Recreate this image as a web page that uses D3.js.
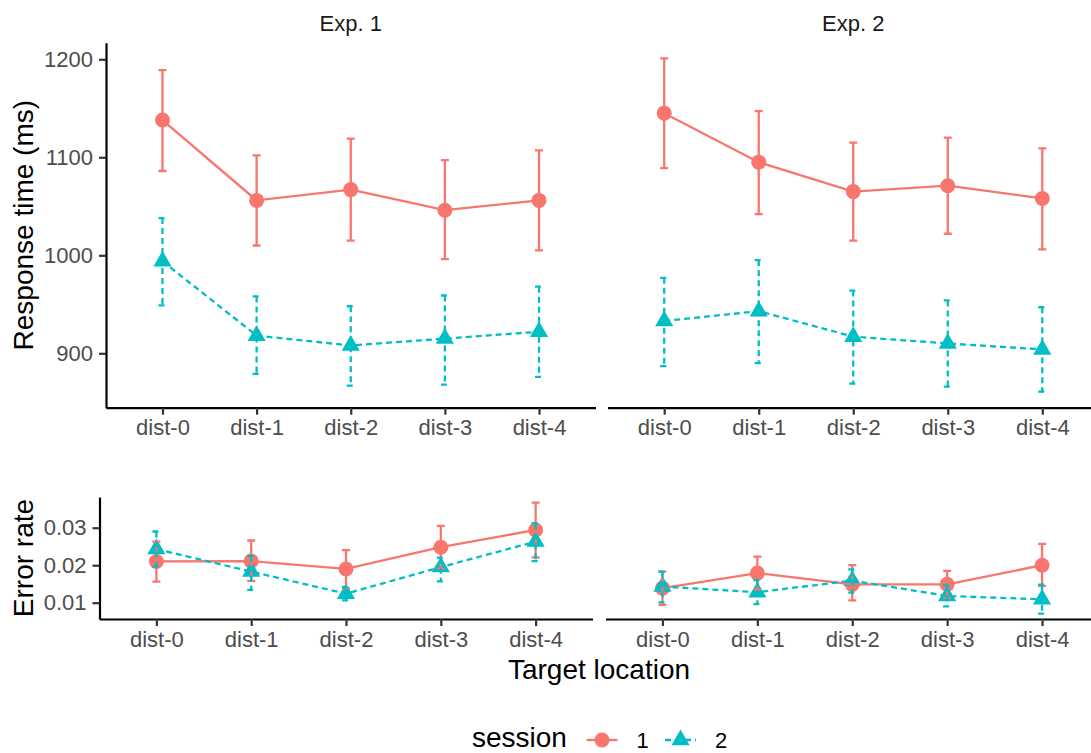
<!DOCTYPE html>
<html><head><meta charset="utf-8">
<script src="https://cdn.jsdelivr.net/npm/d3@7"></script>
<style>body{margin:0;background:#fff} text{font-family:"Liberation Sans",Arial,Helvetica,sans-serif}</style>
</head><body><svg id="c" width="1091" height="753"></svg>
<script>
// ---------------- data ----------------
const categories = ["dist-0","dist-1","dist-2","dist-3","dist-4"];
const experiments = ["Exp. 1","Exp. 2"];
const sessions = ["1","2"];
const rtTicks = [900,1000,1100,1200];
const erTicks = [0.01,0.02,0.03];

// Response time (ms): mean, lower, upper
const rtExp1S1   = [1138, 1056, 1067, 1046, 1056];
const rtExp1S1Lo = [1086, 1010, 1015,  996, 1005];
const rtExp1S1Hi = [1189, 1102, 1119, 1097, 1107];
const rtExp1S2   = [ 994,  918,  908,  915,  922];
const rtExp1S2Lo = [ 949,  879,  867,  868,  876];
const rtExp1S2Hi = [1038,  958,  948,  959,  968];
const rtExp2S1   = [1145, 1095, 1065, 1071, 1058];
const rtExp2S1Lo = [1089, 1042, 1015, 1022, 1006];
const rtExp2S1Hi = [1201, 1147, 1115, 1120, 1109];
const rtExp2S2   = [ 933,  943,  917,  910,  904];
const rtExp2S2Lo = [ 887,  890,  869,  866,  861];
const rtExp2S2Hi = [ 977,  995,  964,  954,  947];

// Error rate: mean, lower, upper
const erExp1S1   = [0.0210, 0.0211, 0.0190, 0.0248, 0.0294];
const erExp1S1Lo = [0.0156, 0.0158, 0.0139, 0.0191, 0.0221];
const erExp1S1Hi = [0.0263, 0.0266, 0.0240, 0.0305, 0.0367];
const erExp1S2   = [0.0243, 0.0183, 0.0124, 0.0195, 0.0263];
const erExp1S2Lo = [0.0196, 0.0134, 0.0106, 0.0157, 0.0211];
const erExp1S2Hi = [0.0290, 0.0225, 0.0142, 0.0220, 0.0312];
const erExp2S1   = [0.0139, 0.0179, 0.0149, 0.0149, 0.0200];
const erExp2S1Lo = [0.0094, 0.0135, 0.0106, 0.0113, 0.0145];
const erExp2S1Hi = [0.0183, 0.0223, 0.0200, 0.0185, 0.0257];
const erExp2S2   = [0.0143, 0.0128, 0.0159, 0.0118, 0.0109];
const erExp2S2Lo = [0.0101, 0.0096, 0.0127, 0.0090, 0.0071];
const erExp2S2Hi = [0.0183, 0.0160, 0.0189, 0.0146, 0.0148];

const colors = ["#F8766D", "#00BFC4"];
const dashes = [null, "6,4"];

// ---------------- drawing ----------------
const svg = d3.select("#c");
svg.append("rect").attr("width",1091).attr("height",753).attr("fill","#fff");

const pack = (m, lo, hi) => m.map((v,i) => ({cat: categories[i], m: v, lo: lo[i], hi: hi[i]}));

const rows = [
  { title: "Response time (ms)", yRange: [407.7, 42.7], yDomain: [844.5, 1216.9],
    ticks: rtTicks, fmt: d3.format("d"), xRanges: [[106, 595.5], [607.5, 1099]],
    data: [
      [pack(rtExp1S1, rtExp1S1Lo, rtExp1S1Hi), pack(rtExp1S2, rtExp1S2Lo, rtExp1S2Hi)],
      [pack(rtExp2S1, rtExp2S1Lo, rtExp2S1Hi), pack(rtExp2S2, rtExp2S2Lo, rtExp2S2Hi)]
    ] },
  { title: "Error rate", yRange: [619, 497], yDomain: [0.00565, 0.0382],
    ticks: erTicks, fmt: d3.format(".2f"), xRanges: [[99.5, 592.5], [605.5, 1099]],
    data: [
      [pack(erExp1S1, erExp1S1Lo, erExp1S1Hi), pack(erExp1S2, erExp1S2Lo, erExp1S2Hi)],
      [pack(erExp2S1, erExp2S1Lo, erExp2S1Hi), pack(erExp2S2, erExp2S2Lo, erExp2S2Hi)]
    ] }
];

const circleSym = d3.symbol().type(d3.symbolCircle).size(Math.PI * 7.5 * 7.5);
const triSym = d3.symbol().type(d3.symbolTriangle).size(5.25 * 5.25 * 3 * Math.sqrt(3));
const symbols = [circleSym, triSym];

function styleAxis(g) {
  g.select(".domain").attr("stroke", "#000").attr("stroke-width", 2.2);
  g.selectAll(".tick line").attr("stroke", "#333").attr("stroke-width", 2.2);
  g.selectAll(".tick text").attr("fill", "#4D4D4D").style("font-size", "22px")
    .style("font-family", '"Liberation Sans",Arial,sans-serif');
}

rows.forEach((row, ri) => {
  const y = d3.scaleLinear().domain(row.yDomain).range(row.yRange);
  experiments.forEach((exp, ei) => {
    const x = d3.scalePoint().domain(categories).range(row.xRanges[ei]).padding(0.6);
    const g = svg.append("g");

    // x axis
    const gx = g.append("g").attr("transform", `translate(0,${row.yRange[0]})`)
      .call(d3.axisBottom(x).tickSize(7).tickSizeOuter(0).tickPadding(5));
    styleAxis(gx);

    // y axis (left panel only)
    if (ei === 0) {
      const gy = g.append("g").attr("transform", `translate(${row.xRanges[0][0]},0)`)
        .call(d3.axisLeft(y).tickValues(row.ticks).tickFormat(row.fmt).tickSize(7).tickSizeOuter(0).tickPadding(6));
      styleAxis(gy);
    }

    // facet titles on the top row
    if (ri === 0) {
      svg.append("text").attr("x", (row.xRanges[ei][0] + row.xRanges[ei][1]) / 2).attr("y", 31)
        .attr("text-anchor", "middle").attr("fill", "#1A1A1A").style("font-size", "22px").text(exp);
    }

    const series = row.data[ei];
    // points
    series.forEach((s, si) => {
      g.append("g").selectAll("path").data(s).join("path")
        .attr("transform", d => `translate(${x(d.cat)},${y(d.m)})`)
        .attr("d", symbols[si]()).attr("fill", colors[si]);
    });
    // lines
    series.forEach((s, si) => {
      g.append("path").datum(s)
        .attr("d", d3.line().x(d => x(d.cat)).y(d => y(d.m)))
        .attr("fill", "none").attr("stroke", colors[si]).attr("stroke-width", 2.3)
        .attr("stroke-dasharray", dashes[si]);
    });
    // error bars
    series.forEach((s, si) => {
      g.append("g").selectAll("path").data(s).join("path")
        .attr("d", d => {
          const cx = x(d.cat), hw = 4, yt = y(d.hi), yb = y(d.lo);
          return `M${cx - hw},${yt}H${cx + hw}M${cx},${yt}V${yb}M${cx - hw},${yb}H${cx + hw}`;
        })
        .attr("fill", "none").attr("stroke", colors[si]).attr("stroke-width", 2.3)
        .attr("stroke-dasharray", dashes[si]);
    });
  });

  // y title
  const cy = (row.yRange[0] + row.yRange[1]) / 2;
  svg.append("text").attr("transform", `translate(33,${cy}) rotate(-90)`)
    .attr("text-anchor", "middle").attr("fill", "#000").style("font-size", "28px").text(row.title);
});

// x title
svg.append("text").attr("x", 599).attr("y", 679).attr("text-anchor", "middle")
  .attr("fill", "#000").style("font-size", "28px").text("Target location");

// legend
const lg = svg.append("g").attr("transform", "translate(0,740)");
lg.append("text").attr("x", 472).attr("y", 7).attr("fill", "#000").style("font-size", "28px").text("session");
const keyX = [586.5, 665];
sessions.forEach((s, si) => {
  const k = lg.append("g").attr("transform", `translate(${keyX[si]},0)`);
  k.append("line").attr("x1", 0).attr("x2", 31).attr("y1", 0).attr("y2", 0)
    .attr("stroke", colors[si]).attr("stroke-width", 2.3).attr("stroke-dasharray", dashes[si]);
  k.append("path").attr("transform", "translate(15.5,0)").attr("d", symbols[si]()).attr("fill", colors[si]);
  lg.append("text").attr("x", keyX[si] + 50).attr("y", 8).attr("fill", "#000")
    .style("font-size", "22px").text(s);
});
</script></body></html>
